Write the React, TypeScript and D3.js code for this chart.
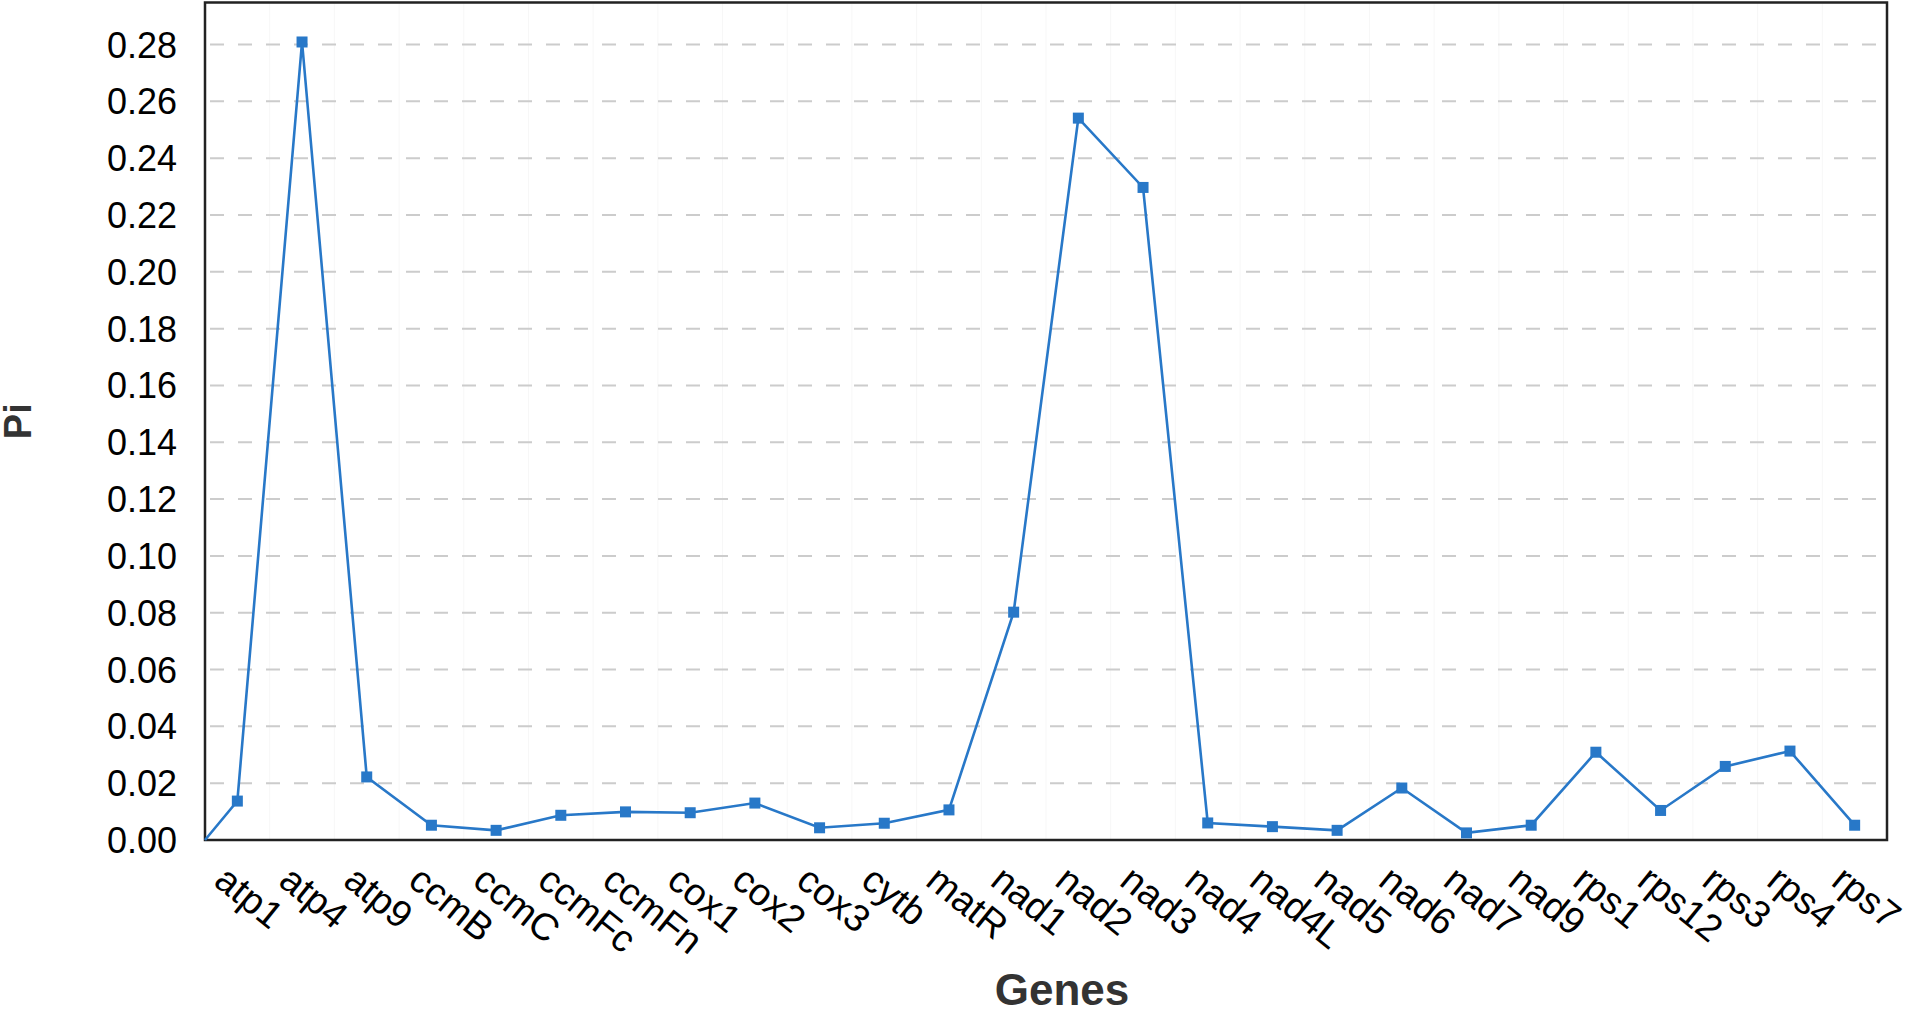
import React from "react";
import * as d3 from "d3";

const genes = ["atp1","atp4","atp9","ccmB","ccmC","ccmFc","ccmFn","cox1","cox2","cox3","cytb","matR","nad1","nad2","nad3","nad4","nad4L","nad5","nad6","nad7","nad9","rps1","rps12","rps3","rps4","rps7"];
const piValues = [0.0137,0.2809,0.0222,0.0052,0.0034,0.0087,0.0099,0.0096,0.0130,0.0043,0.0059,0.0106,0.0802,0.2541,0.2297,0.0060,0.0047,0.0034,0.0183,0.0025,0.0052,0.0309,0.0104,0.0259,0.0313,0.0052];
const startValue = 0;
const yTicks = [0,0.02,0.04,0.06,0.08,0.10,0.12,0.14,0.16,0.18,0.20,0.22,0.24,0.26,0.28];

const W = 1912, H = 1011;
const L = 205, R = 1887, T = 2.5, B = 840;

export default function App() {
  const x = d3.scaleLinear().domain([-0.5, genes.length - 0.5]).range([L, R]);
  const y = d3.scaleLinear().domain([0, 0.2948]).range([B, T]);
  const pts: [number, number][] = [[-0.5, startValue], ...piValues.map((v, i) => [i, v] as [number, number])];
  const line = d3.line<[number, number]>().x(d => x(d[0])).y(d => y(d[1]));
  const fmt = d3.format(".2f");
  const bounds = d3.range(1, genes.length);
  const font = "Liberation Sans, Arial, sans-serif";
  return (
    <div style={{ position: "fixed", left: 0, top: 0 }}>
      <svg width={W} height={H} style={{ display: "block", background: "#fff" }}>
        {bounds.map(k => (
          <line key={"v" + k} x1={x(k - 0.5)} x2={x(k - 0.5)} y1={T} y2={B} stroke="#f7f7f7" strokeWidth={1} />
        ))}
        {yTicks.filter(t => t > 0).map(t => (
          <line key={"g" + t} x1={L} x2={R} y1={y(t)} y2={y(t)} stroke="#cccccc" strokeWidth={2} strokeDasharray="14,14" strokeDashoffset={-5} />
        ))}
        <rect x={L} y={T} width={R - L} height={B - T} fill="none" stroke="#222" strokeWidth={2.5} />
        {yTicks.map(t => (
          <text key={"t" + t} x={177} y={y(t)} dy="0.36em" textAnchor="end" fontFamily={font} fontSize={36} fill="#000">{fmt(t)}</text>
        ))}
        <path d={line(pts) || ""} fill="none" stroke="#2878c8" strokeWidth={2.6} />
        {piValues.map((v, i) => (
          <rect key={"m" + i} x={x(i) - 5.5} y={y(v) - 5.5} width={11} height={11} fill="#2878c8" />
        ))}
        {genes.map((g, i) => (
          <text key={"l" + i} transform={`translate(${x(i) - 25},${884}) rotate(39)`} fontFamily={font} fontSize={38} fill="#000">{g}</text>
        ))}
        <text transform={`translate(31,${(T + B) / 2}) rotate(-90)`} textAnchor="middle" fontFamily={font} fontWeight="bold" fontSize={38} fill="#333">Pi</text>
        <text x={1062} y={1005} textAnchor="middle" fontFamily={font} fontWeight="bold" fontSize={44} fill="#333">Genes</text>
      </svg>
    </div>
  );
}
